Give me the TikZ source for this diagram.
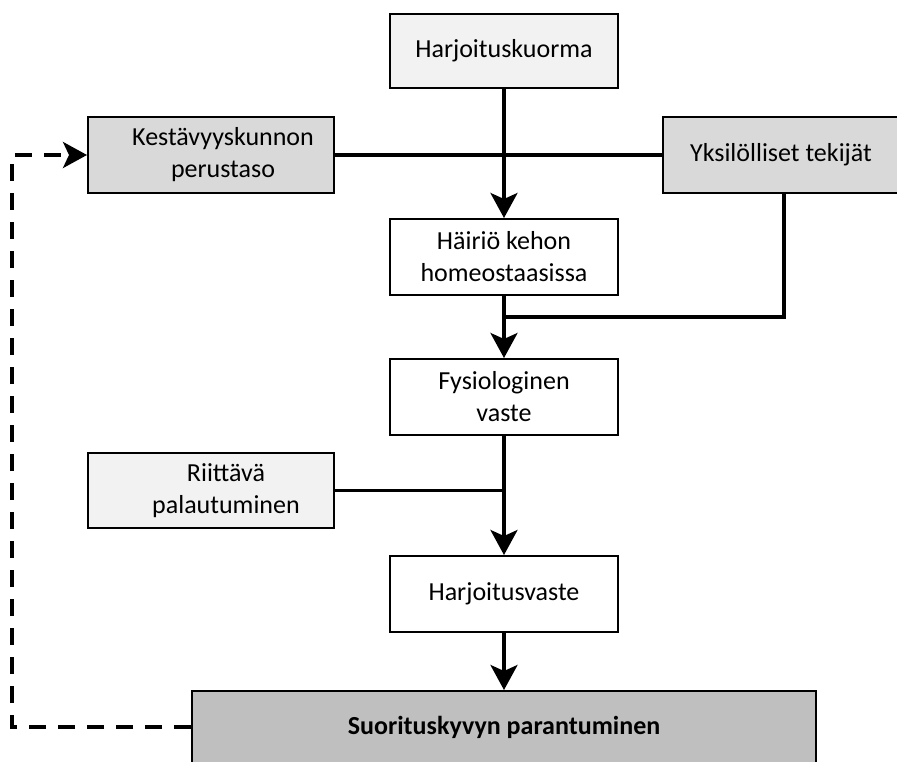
\documentclass[tikz,border=0pt]{standalone}
\usepackage{fontspec}
\setmainfont{Carlito}
\usetikzlibrary{arrows.meta}
\definecolor{lightfill}{HTML}{F2F2F2}
\definecolor{midfill}{HTML}{D9D9D9}
\definecolor{darkfill}{HTML}{BFBFBF}
\tikzset{
  box/.style={draw=black, line width=2pt, rectangle, align=center, inner sep=0pt,
    font=\fontsize{26}{32}\selectfont, minimum height=76pt},
  narrowbox/.style={box, minimum width=228pt, fill=white},
  flow/.style={line width=3.3pt, -{Stealth[length=25pt, width=27pt, inset=6pt]}},
  plain/.style={line width=3.3pt},
  feedback/.style={line width=3.5pt, dash pattern=on 17pt off 12pt,
    -{Stealth[length=24pt, width=26pt, inset=6pt]}}
}
\begin{document}
\begin{tikzpicture}[x=1pt, y=-1pt]
\useasboundingbox (0,0) rectangle (897,762);
\clip (0,0) rectangle (897,762);
\node[narrowbox, fill=lightfill, minimum height=74pt] (hk) at (504,51) {Harjoituskuorma};
\node[box, fill=midfill, minimum width=246pt] (kes) at (211,155) {\hspace*{24pt}Kestävyyskunnon\\\hspace*{24pt}perustaso};
\node[box, fill=midfill, minimum width=242pt] (yks) at (784,155) {\hspace*{-6pt}Yksilölliset tekijät};
\node[narrowbox] (hai) at (504,257) {Häiriö kehon\\homeostaasissa};
\node[narrowbox] (fys) at (504,397) {Fysiologinen\\vaste};
\node[box, fill=lightfill, minimum width=246pt, minimum height=75pt] (rii) at (211,490.5) {\hspace*{30pt}Riittävä\\\hspace*{30pt}palautuminen};
\node[narrowbox] (hv) at (504,594) {Harjoitusvaste};
\node[box, fill=darkfill, minimum width=624pt, minimum height=72pt, font=\fontsize{26}{32}\selectfont\bfseries] (sur) at (504,727) {Suorituskyvyn parantuminen};

\coordinate (j1) at (504,317);
\coordinate (j2) at (504,490.5);
\coordinate (c1) at (12,727);

\draw[plain] (kes.east) -- (yks.west);
\draw[flow] (hk.south) -- (hai.north);
\draw[plain] (yks.south) |- (j1);
\draw[flow] (hai.south) -- (fys.north);
\draw[plain] (rii.east) -- (j2);
\draw[flow] (fys.south) -- (hv.north);
\draw[flow] (hv.south) -- (sur.north);
\draw[feedback] (sur.west) -- (c1) |- (kes.west);
\end{tikzpicture}
\end{document}
